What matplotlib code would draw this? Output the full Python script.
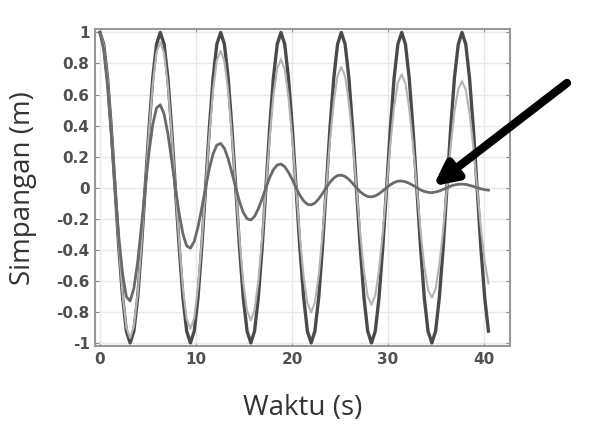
import matplotlib
matplotlib.use("Agg")
import matplotlib.pyplot as plt

# time samples (s)
waktu = [0.00, 0.39, 0.79, 1.18, 1.57, 1.96, 2.36, 2.75, 3.14, 3.53, 3.93, 4.32, 4.71, 5.11, 5.50, 5.89,
         6.28, 6.68, 7.07, 7.46, 7.85, 8.25, 8.64, 9.03, 9.42, 9.82, 10.21, 10.60, 11.00, 11.39, 11.78, 12.17,
         12.57, 12.96, 13.35, 13.74, 14.14, 14.53, 14.92, 15.32, 15.71, 16.10, 16.49, 16.89, 17.28, 17.67, 18.06, 18.46,
         18.85, 19.24, 19.63, 20.03, 20.42, 20.81, 21.21, 21.60, 21.99, 22.38, 22.78, 23.17, 23.56, 23.95, 24.35, 24.74,
         25.13, 25.53, 25.92, 26.31, 26.70, 27.10, 27.49, 27.88, 28.27, 28.67, 29.06, 29.45, 29.85, 30.24, 30.63, 31.02,
         31.42, 31.81, 32.20, 32.59, 32.99, 33.38, 33.77, 34.16, 34.56, 34.95, 35.34, 35.74, 36.13, 36.52, 36.91, 37.31,
         37.70, 38.09, 38.48, 38.88, 39.27, 39.66, 40.06, 40.45]

# undamped
simpangan_1 = [1, .924, .707, .383, 0, -.383, -.707, -.924, -1, -.924, -.707, -.383, 0, .383, .707, .924,
               1, .924, .707, .383, 0, -.383, -.707, -.924, -1, -.924, -.707, -.383, 0, .383, .707, .924,
               1, .924, .707, .383, 0, -.383, -.707, -.924, -1, -.924, -.707, -.383, 0, .383, .707, .924,
               1, .924, .707, .383, 0, -.383, -.707, -.924, -1, -.924, -.707, -.383, 0, .383, .707, .924,
               1, .924, .707, .383, 0, -.383, -.707, -.924, -1, -.924, -.707, -.383, 0, .383, .707, .924,
               1, .924, .707, .383, 0, -.383, -.707, -.924, -1, -.924, -.707, -.383, 0, .383, .707, .924,
               1, .924, .707, .383, 0, -.383, -.707, -.924]

# lightly damped
simpangan_2 = [1, .920, .702, .378, 0, -.375, -.691, -.899, -.969, -.892, -.680, -.367, 0, .364, .669, .871,
               .939, .864, .659, .355, 0, -.352, -.649, -.844, -.910, -.837, -.638, -.344, 0, .341, .629, .818,
               .882, .812, .619, .334, 0, -.331, -.609, -.793, -.855, -.786, -.600, -.323, 0, .321, .590, .768,
               .828, .762, .581, .313, 0, -.311, -.572, -.744, -.803, -.739, -.563, -.304, 0, .301, .554, .721,
               .778, .716, .546, .294, 0, -.292, -.537, -.699, -.754, -.694, -.529, -.285, 0, .283, .521, .678,
               .730, .672, .512, .276, 0, -.274, -.504, -.657, -.708, -.651, -.497, -.268, 0, .266, .489, .636,
               .686, .631, .481, .259, 0, -.257, -.474, -.617]

# strongly damped
simpangan_3 = [1, .888, .654, .340, 0, -.315, -.559, -.702, -.730, -.649, -.477, -.249, 0, .230, .408, .513,
               .534, .474, .349, .181, 0, -.168, -.298, -.375, -.390, -.346, -.254, -.133, 0, .123, .218, .274,
               .285, .253, .186, .097, 0, -.090, -.159, -.200, -.208, -.185, -.136, -.071, 0, .065, .116, .146,
               .152, .135, .099, .052, 0, -.048, -.085, -.107, -.111, -.099, -.072, -.038, 0, .035, .062, .078,
               .081, .072, .053, .028, 0, -.026, -.045, -.057, -.059, -.053, -.039, -.020, 0, .019, .033, .042,
               .043, .038, .028, .015, 0, -.014, -.024, -.030, -.032, -.028, -.021, -.011, 0, .010, .018, .022,
               .023, .021, .015, .008, 0, -.007, -.013, -.016]

x_ticks = [0, 10, 20, 30, 40]
y_ticks = [-1, -0.8, -0.6, -0.4, -0.2, 0, 0.2, 0.4, 0.6, 0.8, 1]
y_labels = ["-1", "-0.8", "-0.6", "-0.4", "-0.2", "0", "0.2", "0.4", "0.6", "0.8", "1"]

fig = plt.figure(figsize=(5.91, 4.38), dpi=100)
ax = fig.add_axes([0.161, 0.21, 0.702, 0.723])

ax.plot(waktu, simpangan_1, color="#4a4a4a", lw=2.4, zorder=3, solid_joinstyle="round")
ax.plot(waktu, simpangan_2, color="#b4b4b4", lw=1.5, zorder=4, solid_joinstyle="round")
ax.plot(waktu, simpangan_3, color="#6a6a6a", lw=2.0, zorder=5, solid_joinstyle="round")

ax.set_xlim(-0.5, 42.7)
ax.set_ylim(-1.02, 1.02)
ax.set_xticks(x_ticks)
ax.set_yticks(y_ticks)
ax.set_yticklabels(y_labels)
ax.grid(True, color="#e8e8e8", lw=1.0, zorder=0)
ax.tick_params(direction="in", top=True, right=True, length=3, color="#888888",
               labelsize=11, labelcolor="#505050", pad=4)
for lab in ax.get_xticklabels() + ax.get_yticklabels():
    lab.set_fontweight("bold")
for s in ax.spines.values():
    s.set_color("#999999")
    s.set_linewidth(1.5)

ax.set_xlabel("Waktu (s)", fontsize=20, family="Open Sans", color="#333333", labelpad=20)
ax.set_ylabel("Simpangan (m)", fontsize=20, family="Open Sans", color="#333333", labelpad=14)

# arrow pointing at the strongly damped curve
ax.annotate("", xy=(34.7, 0.01), xycoords="data", xytext=(567, 355), textcoords="figure pixels",
            arrowprops=dict(arrowstyle="-|>", lw=6, mutation_scale=34, color="black",
                            shrinkA=0, shrinkB=0),
            annotation_clip=False, zorder=10)

fig.savefig("out.png", dpi=100)
